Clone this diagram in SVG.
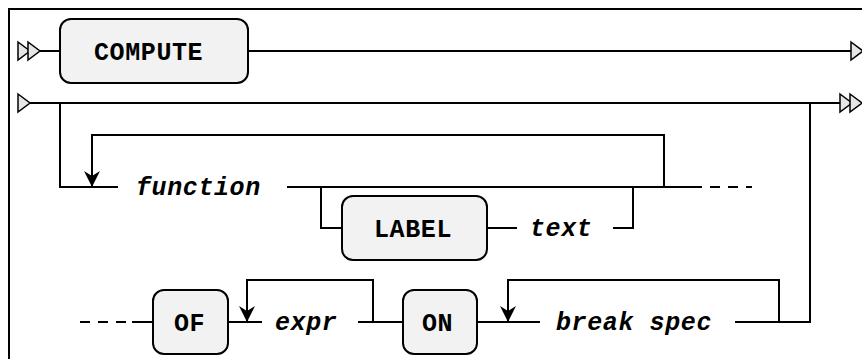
<svg xmlns="http://www.w3.org/2000/svg" width="862" height="359" viewBox="0 0 862 359">
<defs>
<style>
.ln{fill:none;stroke:#000;stroke-width:2}
.dash{fill:none;stroke:#000;stroke-width:2;stroke-dasharray:10 8}
.box{fill:#f2f2f2;stroke:#000;stroke-width:2}
.tri{fill:#e6e6e6;stroke:#000;stroke-width:1.5;stroke-linejoin:miter}
.kw{font-family:"Liberation Mono","DejaVu Sans Mono",monospace;font-size:25px;font-weight:bold;letter-spacing:0.6px;fill:#000}
.it{font-family:"Liberation Mono","DejaVu Sans Mono",monospace;font-size:25px;font-weight:bold;font-style:italic;letter-spacing:0.6px;fill:#000}
.ah{fill:#000;stroke:none}
</style>
<path id="arrow" class="ah" d="M0,0 L-8,-16 L0,-11 L8,-16 Z"/>
</defs>
<rect x="9" y="9" width="900" height="400" fill="#fff" stroke="#000" stroke-width="2"/>
<g id="connectors">
<path class="tri" d="M18,42 L30,51 L18,60 Z"/>
<path class="tri" d="M28,42 L40,51 L28,60 Z"/>
<path class="ln" d="M40,51 H60"/>
<path class="ln" d="M248,51 H851"/>
<path class="tri" d="M851,42 L863,51 L851,60 Z"/>
<path class="tri" d="M18,94 L30,103 L18,112 Z"/>
<path class="ln" d="M30,103 H840"/>
<path class="tri" d="M840,94 L852,103 L840,112 Z"/>
<path class="tri" d="M850,94 L862,103 L850,112 Z"/>
<path class="ln" d="M60,103 V187 H118"/>
<path class="ln" d="M92,187 V135 H664 V187"/>
<use href="#arrow" x="92" y="187"/>
<path class="ln" d="M287,187 H702"/>
<path class="dash" d="M710,187 H752"/>
<path class="ln" d="M321,187 V228 H342"/>
<path class="ln" d="M487,228 H517"/>
<path class="ln" d="M613,228 H633 V187"/>
<path class="dash" d="M80,322 H130"/>
<path class="ln" d="M132,322 H153"/>
<path class="ln" d="M228,322 H262"/>
<path class="ln" d="M247,322 V280 H373 V322"/>
<use href="#arrow" x="247" y="322"/>
<path class="ln" d="M358,322 H403"/>
<path class="ln" d="M477,322 H540"/>
<path class="ln" d="M508,322 V280 H779 V322"/>
<use href="#arrow" x="508" y="322"/>
<path class="ln" d="M735,322 H810 V103"/>
</g>
<g id="node-compute">
<rect class="box" x="60" y="19" width="188" height="64" rx="11"/>
<text class="kw" x="94" y="60">COMPUTE</text>
</g>
<g id="node-function">
<text class="it" x="136" y="195">function</text>
</g>
<g id="node-label">
<rect class="box" x="342" y="196" width="145" height="64" rx="11"/>
<text class="kw" x="374" y="237">LABEL</text>
</g>
<g id="node-text">
<text class="it" x="530" y="236">text</text>
</g>
<g id="node-of">
<rect class="box" x="153" y="290" width="75" height="64" rx="11"/>
<text class="kw" x="174" y="331">OF</text>
</g>
<g id="node-expr">
<text class="it" x="275" y="330">expr</text>
</g>
<g id="node-on">
<rect class="box" x="403" y="290" width="74" height="64" rx="11"/>
<text class="kw" x="422" y="331">ON</text>
</g>
<g id="node-breakspec">
<text class="it" x="556" y="330">break spec</text>
</g>
</svg>
